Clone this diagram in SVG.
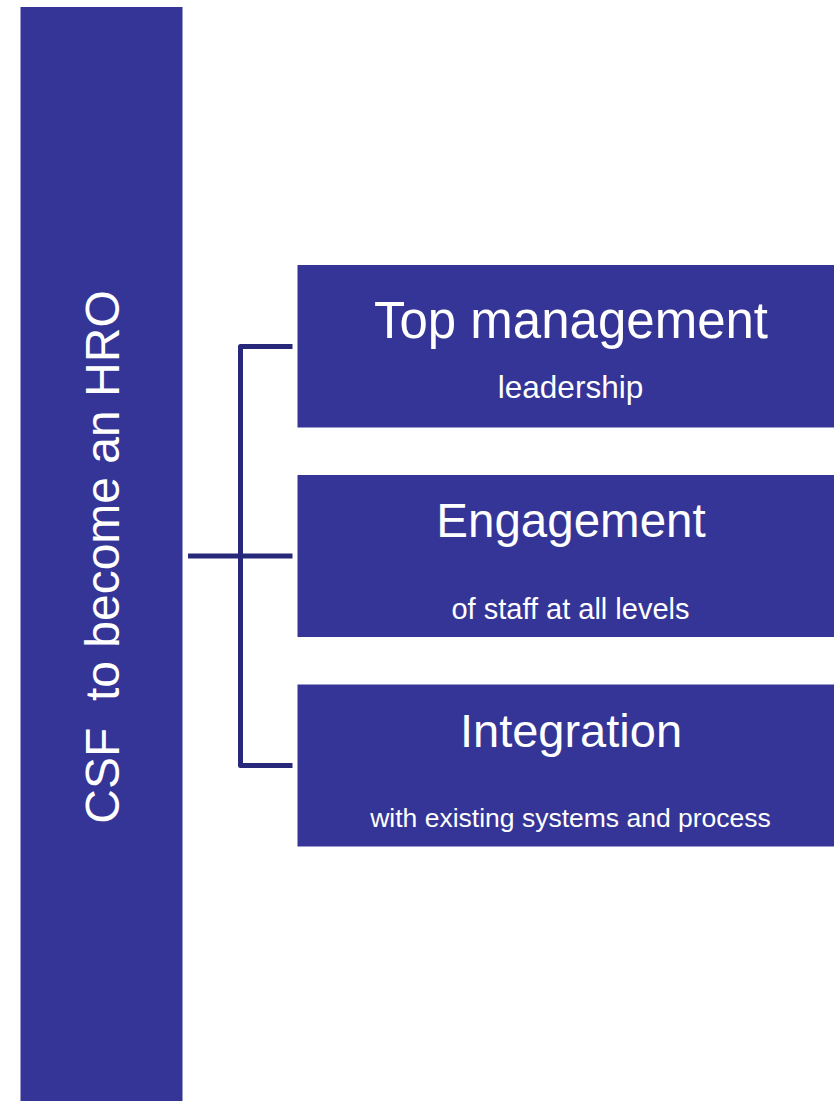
<svg xmlns="http://www.w3.org/2000/svg" width="834" height="1101" viewBox="0 0 834 1101">
  <style>
    .box { fill: #353597; }
    .title { font-family: "Liberation Sans", Arial, sans-serif; fill: #ffffff; text-anchor: middle; }
    .keep { white-space: pre; }
    .link { fill: none; stroke: #28287a; stroke-width: 5; stroke-linejoin: round; }
  </style>
  <rect width="834" height="1101" fill="#ffffff"/>

  <!-- vertical heading bar -->
  <g id="csf">
    <rect class="box" x="20.5" y="7" width="162" height="1094"/>
    <text class="title keep" xml:space="preserve" font-size="48" transform="translate(119,557) rotate(-90)">CSF  to become an HRO</text>
  </g>

  <!-- bracket connecting the heading to the three factors -->
  <g id="connectors">
    <path class="link" d="M292.5,346.5 H240.5 V765.5 H292.5"/>
    <path class="link" d="M188,556 H292.5"/>
  </g>

  <g id="top-management">
    <rect class="box" x="297.5" y="265" width="536.5" height="162.5"/>
    <text class="title" x="571" y="338" font-size="51">Top management</text>
    <text class="title" x="570.5" y="398" font-size="31.5">leadership</text>
  </g>

  <g id="engagement">
    <rect class="box" x="297.5" y="475" width="536.5" height="162"/>
    <text class="title" x="571" y="536.5" font-size="47.5">Engagement</text>
    <text class="title" x="570.5" y="618.5" font-size="29">of staff at all levels</text>
  </g>

  <g id="integration">
    <rect class="box" x="297.5" y="684.5" width="536.5" height="162"/>
    <text class="title" x="571" y="746.5" font-size="47">Integration</text>
    <text class="title" x="570.5" y="827" font-size="26.5">with existing systems and process</text>
  </g>
</svg>
